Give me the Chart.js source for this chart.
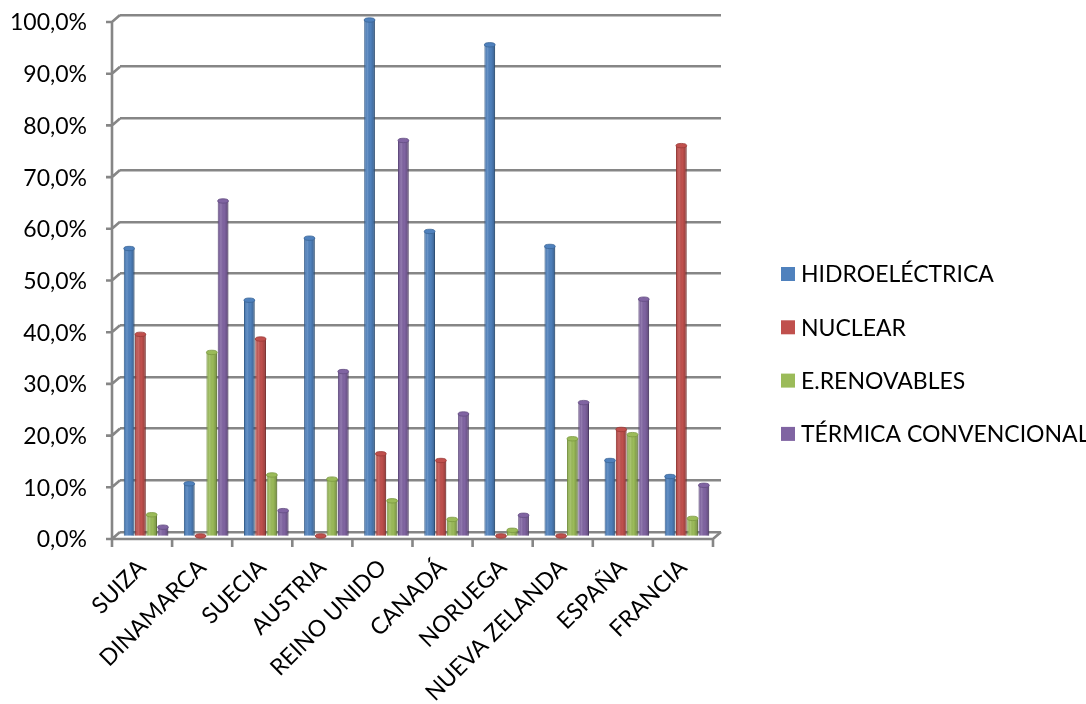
<!DOCTYPE html>
<html>
<head>
<meta charset="utf-8">
<script src="https://cdn.jsdelivr.net/npm/chart.js@4.4.0/dist/chart.umd.min.js"></script>
<style>
  html, body { margin: 0; padding: 0; background: #ffffff; }
  #wrap { width: 1086px; height: 704px; position: relative; }
</style>
</head>
<body>
<div id="wrap"><canvas id="chart"></canvas></div>
<script>
// Electricity generation mix by country (% of total)
const countries = ['SUIZA', 'DINAMARCA', 'SUECIA', 'AUSTRIA', 'REINO UNIDO', 'CANADÁ', 'NORUEGA', 'NUEVA ZELANDA', 'ESPAÑA', 'FRANCIA'];
const hidroelectrica = [55.8, 10.3, 45.8, 57.8, 100.0, 59.1, 95.2, 56.2, 14.8, 11.7];
const nuclear        = [39.2, 0.2, 38.3, 0.2, 16.1, 14.8, 0.2, 0.2, 20.8, 75.7];
const renovables     = [4.3, 35.7, 12.0, 11.2, 7.0, 3.4, 1.3, 19.0, 19.8, 3.6];
const termica        = [1.9, 65.0, 5.1, 32.0, 76.7, 23.8, 4.2, 26.0, 46.0, 10.0];
const seriesNames  = ['HIDROELÉCTRICA', 'NUCLEAR', 'E.RENOVABLES', 'TÉRMICA CONVENCIONAL'];
const seriesValues = [hidroelectrica, nuclear, renovables, termica];
const seriesColors = ['#4F81BD', '#C0504D', '#9BBB59', '#8064A2'];
const seriesEdges  = ['#3A6595', '#9A3A37', '#7A9840', '#634C82'];

const FONT = 'Lato, "Open Sans", sans-serif';
const FONT_SIZE = 23;
const GRID = '#868686';
// front plane of the 3D frame relative to the back wall
const FRONT_DX = -8, FRONT_DY = 7;
// bars stand half way between the wall and the front edge
const BAR_DX = -4, BAR_DY = 5;

// Front axis, side-wall connectors, floor edge and category ticks
const frame3d = {
  id: 'frame3d',
  beforeDatasetsDraw(chart) {
    const { ctx, chartArea: a, scales: { x, y } } = chart;
    const y0 = y.getPixelForValue(0);
    const yTop = y.getPixelForValue(100);
    ctx.save();
    ctx.strokeStyle = GRID;
    ctx.lineWidth = 2.6;
    ctx.lineJoin = 'miter';
    ctx.beginPath();
    y.ticks.forEach(t => {
      const py = y.getPixelForValue(t.value);
      ctx.moveTo(a.left + FRONT_DX - 6, py + FRONT_DY);
      ctx.lineTo(a.left + FRONT_DX, py + FRONT_DY);
      ctx.lineTo(a.left, py);
    });
    ctx.moveTo(a.left + FRONT_DX, yTop + FRONT_DY);
    ctx.lineTo(a.left + FRONT_DX, y0 + FRONT_DY);
    ctx.moveTo(a.left + FRONT_DX, y0 + FRONT_DY);
    ctx.lineTo(a.right + FRONT_DX, y0 + FRONT_DY);
    ctx.lineTo(a.right, y0);
    const n = countries.length;
    for (let k = 0; k <= n; k++) {
      let px;
      if (k === 0) px = a.left;
      else if (k === n) px = a.right;
      else px = (x.getPixelForValue(k - 1) + x.getPixelForValue(k)) / 2;
      ctx.moveTo(px + FRONT_DX, y0 + FRONT_DY);
      ctx.lineTo(px + FRONT_DX, y0 + FRONT_DY + 8);
    }
    ctx.stroke();
    ctx.restore();

    ctx.save();
    ctx.translate(BAR_DX, BAR_DY);
  },
  afterDatasetsDraw(chart) {
    const { ctx } = chart;
    // cylinder shading and top caps on the bars
    chart.data.datasets.forEach((ds, di) => {
      const meta = chart.getDatasetMeta(di);
      meta.data.forEach(bar => {
        const { x, y, base, width } = bar.getProps(['x', 'y', 'base', 'width'], true);
        const l = x - width / 2, r = x + width / 2;
        const g = ctx.createLinearGradient(l, 0, r, 0);
        g.addColorStop(0, 'rgba(0,0,0,0.05)');
        g.addColorStop(0.3, 'rgba(255,255,255,0.14)');
        g.addColorStop(0.6, 'rgba(0,0,0,0)');
        g.addColorStop(1, 'rgba(0,0,0,0.25)');
        ctx.fillStyle = g;
        ctx.fillRect(l, Math.min(y, base), width, Math.abs(base - y));
        ctx.beginPath();
        ctx.ellipse(x, y, width / 2, 2.2, 0, 0, Math.PI * 2);
        ctx.fillStyle = seriesColors[di];
        ctx.fill();
        ctx.strokeStyle = seriesEdges[di];
        ctx.lineWidth = 0.8;
        ctx.stroke();
      });
    });
    ctx.restore();
  },
  afterDraw(chart) {
    // legend column to the right of the plot
    const { ctx } = chart;
    ctx.save();
    ctx.font = FONT_SIZE + 'px ' + FONT;
    ctx.textBaseline = 'middle';
    ctx.textAlign = 'left';
    seriesNames.forEach((name, i) => {
      const cy = 274 + i * 53.3;
      ctx.fillStyle = seriesColors[i];
      ctx.fillRect(781, cy - 7, 14, 14);
      ctx.fillStyle = '#000000';
      ctx.fillText(name, 801, cy + 1);
    });
    ctx.restore();
  }
};

const datasets = seriesNames.map((name, i) => ({
  label: name,
  data: seriesValues[i],
  backgroundColor: seriesColors[i],
  borderColor: seriesEdges[i],
  borderWidth: 1,
  barPercentage: 0.95,
  categoryPercentage: 0.75,
  clip: false
}));

new Chart(document.getElementById('chart'), {
  type: 'bar',
  data: { labels: countries, datasets },
  options: {
    responsive: true,
    maintainAspectRatio: false,
    animation: false,
    layout: { padding: { left: 0, top: 15, right: 365, bottom: 0 } },
    plugins: { legend: { display: false }, tooltip: { enabled: false } },
    scales: {
      x: {
        grid: { display: false },
        border: { display: false },
        afterFit(scale) { scale.height = 172; },
        ticks: {
          autoSkip: false,
          minRotation: 45,
          maxRotation: 45,
          labelOffset: -8,
          padding: 14,
          color: '#000000',
          font: { family: FONT, size: FONT_SIZE }
        }
      },
      y: {
        min: 0,
        max: 100,
        afterFit(scale) {
          scale.width = 120;
          scale.paddingTop = 0;
          scale.paddingBottom = 0;
        },
        grid: { color: GRID, lineWidth: 2.6, drawTicks: false },
        border: { display: false },
        ticks: {
          stepSize: 10,
          padding: 33,
          labelOffset: 8,
          color: '#000000',
          font: { family: FONT, size: FONT_SIZE },
          callback: v => v.toFixed(1).replace('.', ',') + '%'
        }
      }
    }
  },
  plugins: [frame3d]
});
</script>
</body>
</html>
